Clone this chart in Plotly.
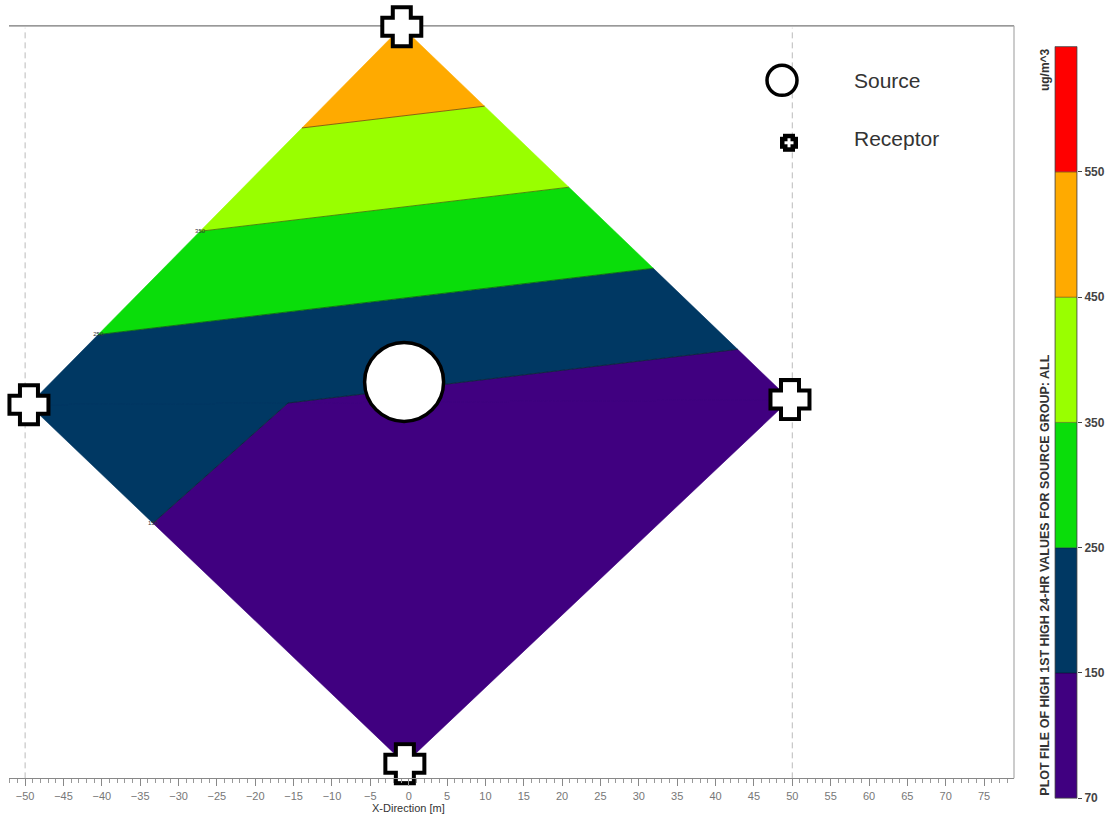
import plotly.graph_objects as go

# Receptor locations [m] and their concentrations [ug/m^3] (top, left, right, bottom)
REC_X = [-0.9, -49.5, 49.7, -0.5]
REC_Y = [50.0, -1.3, -0.6, -50.0]
REC_VAL = [548, 182, 88, 85]

# Source location [m]
SRC_X = [-0.6]
SRC_Y = [1.8]

# Triangulation of the receptor network (indices into the receptor lists)
TRIANGLES = [(1, 0, 2), (1, 3, 2)]

# Contour levels and fill colours of each band
LEVELS = [70, 150, 250, 350, 450, 550, 650]
BAND_COLORS = ["#400080", "#003863", "#0ADD0A", "#99FF00", "#FFAA00", "#FF0000"]
LEVEL_LABELS = ["70", "150", "250", "350", "450", "550"]
LINE_LEVELS = [150, 250, 350, 450]
LABELED_LEVELS = [150, 250, 350]

GRID_X = [-50, 50]

FONT = "Liberation Sans, Arial, sans-serif"
W, H = 1113, 829
LINE_SYMBOL_SCALE = 1.4  # plotly draws line-ns / line-ew markers 1.4 x size long


def px(v):
    return v / W


def py(v):
    return 1 - v / H


def clip(poly, level, keep_above):
    out = []
    n = len(poly)
    for i in range(n):
        p, q = poly[i], poly[(i + 1) % n]
        pin = p[2] >= level if keep_above else p[2] <= level
        qin = q[2] >= level if keep_above else q[2] <= level
        if pin:
            out.append(p)
        if pin != qin:
            t = (level - p[2]) / (q[2] - p[2])
            out.append((p[0] + t * (q[0] - p[0]), p[1] + t * (q[1] - p[1]), level))
    return out


def iso_segment(tri, level):
    pts = []
    for i in range(3):
        p, q = tri[i], tri[(i + 1) % 3]
        if (p[2] - level) * (q[2] - level) < 0:
            t = (level - p[2]) / (q[2] - p[2])
            pts.append((p[0] + t * (q[0] - p[0]), p[1] + t * (q[1] - p[1])))
    return pts if len(pts) == 2 else None


def add_plus(fig, x, y, xa, ya, outer, outer_arm, inner, inner_arm):
    """Chunky outlined plus sign built from bar-shaped line markers."""
    layers = [("black", outer, outer_arm), ("white", inner, inner_arm)]
    for color, length, arm in layers:
        for sym in ("line-ns", "line-ew"):
            fig.add_trace(go.Scatter(
                x=x, y=y, mode="markers",
                marker=dict(symbol=sym, size=length / LINE_SYMBOL_SCALE, color=color,
                            line=dict(color=color, width=arm)),
                hoverinfo="skip", showlegend=False, xaxis=xa, yaxis=ya,
                cliponaxis=False))


tris = [[(REC_X[i], REC_Y[i], REC_VAL[i]) for i in t] for t in TRIANGLES]

fig = go.Figure()

# Filled concentration bands
for b, color in enumerate(BAND_COLORS):
    lo, hi = LEVELS[b], LEVELS[b + 1]
    xs, ys = [], []
    for tri in tris:
        poly = clip(clip(tri, lo, True), hi, False)
        if len(poly) >= 3:
            xs += [p[0] for p in poly] + [poly[0][0], None]
            ys += [p[1] for p in poly] + [poly[0][1], None]
    if xs:
        fig.add_trace(go.Scatter(
            x=xs, y=ys, mode="lines", fill="toself", fillcolor=color,
            line=dict(color=color, width=0.6), hoverinfo="skip", showlegend=False,
            xaxis="x", yaxis="y"))

# Isolines and their small labels
lab_x, lab_y, lab_t = [], [], []
for lev in LINE_LEVELS:
    xs, ys = [], []
    ends = []
    for tri in tris:
        seg = iso_segment(tri, lev)
        if seg:
            xs += [seg[0][0], seg[1][0], None]
            ys += [seg[0][1], seg[1][1], None]
            ends += seg
    fig.add_trace(go.Scatter(
        x=xs, y=ys, mode="lines", line=dict(color="rgba(20,20,20,0.55)", width=0.9),
        hoverinfo="skip", showlegend=False, xaxis="x", yaxis="y"))
    if lev in LABELED_LEVELS and ends:
        e = min(ends, key=lambda p: p[0])
        lab_x.append(e[0])
        lab_y.append(e[1])
        lab_t.append(str(lev))

fig.add_trace(go.Scatter(
    x=lab_x, y=lab_y, mode="text", text=lab_t, textposition="middle center",
    textfont=dict(family=FONT, size=6, color="#333"), hoverinfo="skip",
    showlegend=False, xaxis="x", yaxis="y"))

# Receptors
add_plus(fig, REC_X, REC_Y, "x", "y", outer=43, outer_arm=22, inner=35, inner_arm=14)

# Source
fig.add_trace(go.Scatter(
    x=SRC_X, y=SRC_Y, mode="markers",
    marker=dict(symbol="circle", size=79, color="white", line=dict(color="black", width=3.5)),
    hoverinfo="skip", showlegend=False, xaxis="x", yaxis="y"))

# Colour scale bar
n_bands = len(BAND_COLORS)
fig.add_trace(go.Bar(
    x=[0] * n_bands, y=[1] * n_bands, base=list(range(n_bands)), width=1,
    marker=dict(color=BAND_COLORS, line=dict(color="rgba(0,0,0,0.5)", width=0.6)),
    hoverinfo="skip", showlegend=False, xaxis="x2", yaxis="y2"))

# Legend glyphs (pixel-based overlay axes)
fig.add_trace(go.Scatter(
    x=[782], y=[81], mode="markers",
    marker=dict(symbol="circle", size=30, color="white", line=dict(color="black", width=3.5)),
    hoverinfo="skip", showlegend=False, xaxis="x3", yaxis="y3"))
add_plus(fig, [789], [144], "x3", "y3", outer=18, outer_arm=12, inner=9, inner_arm=3)

shapes = []
for gx in GRID_X:
    shapes.append(dict(type="line", xref="x", yref="paper", x0=gx, x1=gx,
                       y0=py(785), y1=py(28), layer="below",
                       line=dict(color="#bbbbbb", width=1, dash="6px,4px")))
shapes.append(dict(type="line", xref="paper", yref="paper", x0=px(9), x1=px(1014),
                   y0=py(26), y1=py(26), layer="below", line=dict(color="#777", width=1.2)))
shapes.append(dict(type="line", xref="paper", yref="paper", x0=px(1014), x1=px(1014),
                   y0=py(26), y1=py(785), line=dict(color="#aaa", width=1.2)))
shapes.append(dict(type="rect", xref="paper", yref="paper", x0=px(1055), x1=px(1077),
                   y0=py(805), y1=py(47), line=dict(color="#555", width=0.8)))

annotations = [
    dict(text="Source", x=px(852), y=py(81), xref="paper", yref="paper",
         xanchor="left", yanchor="middle", showarrow=False,
         font=dict(family=FONT, size=21, color="#333")),
    dict(text="Receptor", x=px(852), y=py(140), xref="paper", yref="paper",
         xanchor="left", yanchor="middle", showarrow=False,
         font=dict(family=FONT, size=21, color="#333")),
    dict(text="X-Direction [m]", x=0, y=py(815), xref="x", yref="paper",
         xanchor="center", yanchor="middle", showarrow=False,
         font=dict(family=FONT, size=11, color="#333")),
    dict(text="ug/m^3", x=px(1045), y=py(47), xref="paper", yref="paper",
         xanchor="center", yanchor="top", textangle=-90, showarrow=False,
         font=dict(family=FONT, size=12, color="#333", weight="bold")),
    dict(text="PLOT FILE OF HIGH 1ST HIGH 24-HR VALUES FOR SOURCE GROUP: ALL",
         x=px(1045), y=py(805), xref="paper", yref="paper",
         xanchor="center", yanchor="bottom", textangle=-90, showarrow=False,
         font=dict(family=FONT, size=12.5, color="#333", weight="bold")),
]

fig.update_layout(
    width=W, height=H,
    margin=dict(l=0, r=0, t=0, b=0, pad=0),
    paper_bgcolor="white", plot_bgcolor="rgba(0,0,0,0)",
    font=dict(family=FONT),
    showlegend=False,
    xaxis=dict(domain=[px(9), px(1014)], range=[-52.1, 78.9], anchor="y",
               showline=True, linecolor="#888", linewidth=1,
               ticks="outside", ticklen=7, tickcolor="#888", tick0=0, dtick=5,
               minor=dict(ticks="outside", ticklen=4, tickcolor="#999", dtick=1),
               showgrid=False, zeroline=False,
               tickfont=dict(family=FONT, size=11, color="#777")),
    yaxis=dict(domain=[py(785), py(26)], range=[-52.0, 50.13], anchor="x",
               visible=False),
    xaxis2=dict(domain=[px(1055), px(1077)], range=[-0.5, 0.5], anchor="y2",
                visible=False),
    yaxis2=dict(domain=[py(805), py(47)], range=[0, n_bands], anchor="x2", side="right",
                tickvals=list(range(n_bands)), ticktext=LEVEL_LABELS,
                ticks="outside", ticklen=4, tickcolor="#444",
                showgrid=False, zeroline=False, showline=False,
                tickfont=dict(family=FONT, size=12, color="#444", weight="bold")),
    xaxis3=dict(domain=[0, 1], range=[0, W], anchor="y3", visible=False),
    yaxis3=dict(domain=[0, 1], range=[H, 0], anchor="x3", visible=False),
    shapes=shapes,
    annotations=annotations,
)

fig.write_html("out.html")
